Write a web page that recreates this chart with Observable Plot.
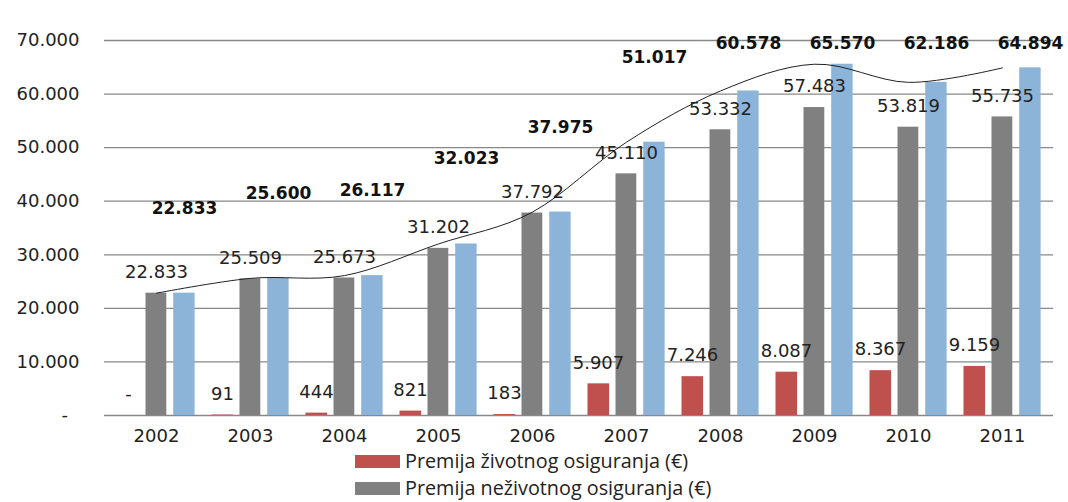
<!DOCTYPE html>
<html>
<head>
<meta charset="utf-8">
<script src="https://cdn.jsdelivr.net/npm/d3@7"></script>
<script src="https://cdn.jsdelivr.net/npm/@observablehq/plot@0.6"></script>
<style>
  body { margin: 0; background: #fff; }
  #legend { position: relative; height: 52px; width: 1068px; font-family: "Open Sans", sans-serif; font-size: 19.8px; color: #222; }
  .item { position: absolute; left: 355px; height: 22px; display: flex; align-items: center; white-space: nowrap; line-height: 1; }
  .sw { width: 45px; height: 13px; margin-right: 5px; }
</style>
</head>
<body>
<div id="chart"></div>
<div id="legend"></div>
<script>
const years = ["2002", "2003", "2004", "2005", "2006", "2007", "2008", "2009", "2010", "2011"];
const lifePremium = [0, 91, 444, 821, 183, 5907, 7246, 8087, 8367, 9159];
const nonLifePremium = [22833, 25509, 25673, 31202, 37792, 45110, 53332, 57483, 53819, 55735];
const totalPremium = [22833, 25600, 26117, 32023, 37975, 51017, 60578, 65570, 62186, 64894];
const yTicks = [0, 10000, 20000, 30000, 40000, 50000, 60000, 70000];
const legendNames = ["Premija životnog osiguranja (€)", "Premija neživotnog osiguranja (€)"];
const colors = ["#C0504D", "#808080", "#8CB4D8"];

const data = years.map((year, i) => ({
  year, life: lifePremium[i], nonLife: nonLifePremium[i], total: totalPremium[i]
}));

const fmt = d3.formatLocale({decimal: ",", thousands: ".", grouping: [3], currency: ["", "€"]}).format(",d");
const textColor = "#222";

const chart = Plot.plot({
  width: 1068,
  height: 450,
  marginLeft: 104,
  marginRight: 15,
  marginTop: 40,
  marginBottom: 35,
  style: {fontFamily: "DejaVu Sans", fontSize: "18px", color: textColor, background: "#fff"},
  x: {domain: years, padding: 0, label: null, tickSize: 0, tickPadding: 14},
  y: {domain: [0, 70000], ticks: yTicks, tickSize: 0, tickPadding: 25, label: null,
      tickFormat: d => d === 0 ? "-\u2007" : fmt(d)},
  marks: [
    Plot.ruleY(yTicks, {stroke: "#888", strokeWidth: 1.3}),
    Plot.barY(data, {x: "year", y: "life", fill: colors[0], insetLeft: 8.5, insetRight: 63.9}),
    Plot.barY(data, {x: "year", y: "nonLife", fill: colors[1], insetLeft: 36.5, insetRight: 36.7}),
    Plot.barY(data, {x: "year", y: "total", fill: colors[2], insetLeft: 64.2, insetRight: 8.4}),
    Plot.line(data, {x: "year", y: "total", curve: "cardinal", stroke: "#222", strokeWidth: 1}),
    Plot.text(data, {x: "year", y: "life", text: d => d.life === 0 ? "-" : fmt(d.life),
      dx: -28, dy: -21, fontSize: 18, fill: textColor}),
    Plot.text(data, {x: "year", y: "nonLife", text: d => fmt(d.nonLife),
      dy: -21, fontSize: 18, fill: textColor}),
    Plot.text(data, {x: "year", y: d => Math.min(d.total, 53500), text: d => fmt(d.total),
      dx: 28, dy: -85, fontSize: 17, fontWeight: "bold", fill: "#111"})
  ]
});
document.getElementById("chart").appendChild(chart);

const legend = document.getElementById("legend");
legendNames.forEach((name, i) => {
  const item = document.createElement("div");
  item.className = "item";
  item.style.top = (i === 0 ? 0 : 27.2) + "px";
  const sw = document.createElement("span");
  sw.className = "sw";
  sw.style.background = colors[i];
  const label = document.createElement("span");
  label.textContent = name;
  item.appendChild(sw);
  item.appendChild(label);
  legend.appendChild(item);
});
</script>
</body>
</html>
